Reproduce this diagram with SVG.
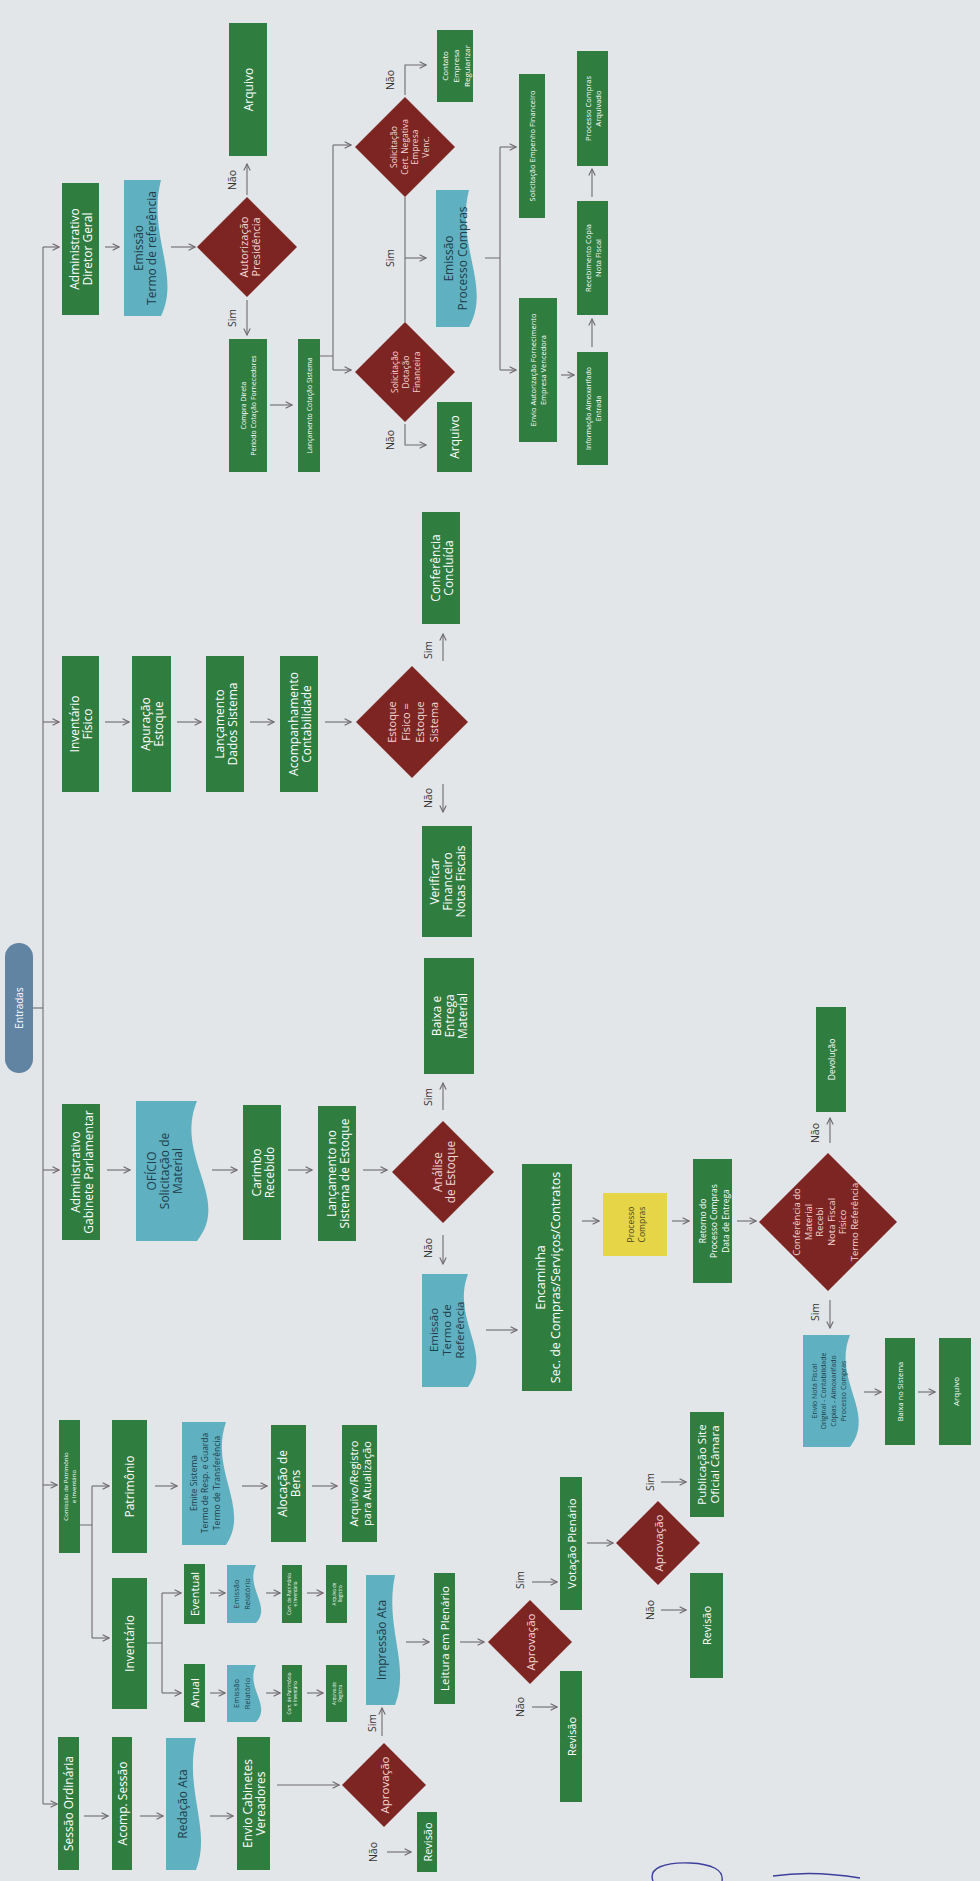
<svg xmlns="http://www.w3.org/2000/svg" width="980" height="1881" viewBox="0 0 980 1881">
<defs>
<marker id="ah" viewBox="0 0 10 10" refX="9" refY="5" markerWidth="8" markerHeight="8" markerUnits="userSpaceOnUse" orient="auto"><path d="M1,1 L9,5 L1,9" fill="none" stroke="#6e6a6c" stroke-width="1.4"/></marker>
</defs>
<style>
.g{fill:#2f7d3f}.c{fill:#5fb1c1}.d{fill:#7d2522}.y{fill:#e5d547}
text{font-family:'Open Sans','Liberation Sans',sans-serif;text-anchor:middle;dominant-baseline:central}
.tw{fill:#ffffff}.tk{fill:#213c48}.tp{fill:#f4d6d6}.ty{fill:#4a4620}
.lab{fill:#333333;font-size:10.5px}
.ln{stroke:#6e6a6c;stroke-width:1.1;fill:none}
.ar{marker-end:url(#ah)}
</style>
<rect width="980" height="1881" fill="#e3e6e9"/>

<g id="connectors">
<path class="ln" d="M43,247 V1804"/>
<path class="ln" d="M33,1008 H43"/>
<path class="ln ar" d="M43,247 H59"/>
<path class="ln ar" d="M43,722 H59"/>
<path class="ln ar" d="M43,1170 H59"/>
<path class="ln ar" d="M43,1485 H57"/>
<path class="ln ar" d="M43,1804 H57"/>
<!-- Diretor Geral -->
<path class="ln ar" d="M105,247 H119"/>
<path class="ln ar" d="M171,247 H195"/>
<path class="ln ar" d="M247,195 V164"/>
<path class="ln ar" d="M247,300 V335"/>
<path class="ln ar" d="M270,405 H292"/>
<path class="ln" d="M320,356 H333 M333,145 V370"/>
<path class="ln ar" d="M333,145 H351"/>
<path class="ln ar" d="M333,370 H351"/>
<path class="ln" d="M405,197 V322"/>
<path class="ln ar" d="M405,258 H426"/>
<path class="ln ar" d="M405,95 V65 H426"/>
<path class="ln ar" d="M405,424 V445 H426"/>
<path class="ln" d="M485,258 H500 M500,147 V370"/>
<path class="ln ar" d="M500,147 H516"/>
<path class="ln ar" d="M500,370 H516"/>
<path class="ln ar" d="M561,375 H574"/>
<path class="ln ar" d="M592,347 V319"/>
<path class="ln ar" d="M592,197 V169"/>
<!-- Inventario Fisico -->
<path class="ln ar" d="M105,722 H129"/>
<path class="ln ar" d="M177,722 H201"/>
<path class="ln ar" d="M250,722 H274"/>
<path class="ln ar" d="M325,722 H351"/>
<path class="ln ar" d="M443,661 V634"/>
<path class="ln ar" d="M443,784 V812"/>
<!-- Gabinete -->
<path class="ln ar" d="M107,1170 H130"/>
<path class="ln ar" d="M212,1170 H237"/>
<path class="ln ar" d="M288,1170 H312"/>
<path class="ln ar" d="M363,1170 H387"/>
<path class="ln ar" d="M443,1110 V1083"/>
<path class="ln ar" d="M443,1235 V1264"/>
<path class="ln ar" d="M486,1330 H517"/>
<path class="ln ar" d="M582,1221 H599"/>
<path class="ln ar" d="M672,1221 H689"/>
<path class="ln ar" d="M737,1221 H756"/>
<path class="ln ar" d="M830,1143 V1118"/>
<path class="ln ar" d="M830,1300 V1328"/>
<path class="ln ar" d="M864,1392 H881"/>
<path class="ln ar" d="M918,1392 H935"/>
<!-- Comissao -->
<path class="ln" d="M80,1525 H92 M92,1486 V1638"/>
<path class="ln ar" d="M92,1486 H109"/>
<path class="ln ar" d="M92,1638 H109"/>
<path class="ln ar" d="M155,1486 H177"/>
<path class="ln ar" d="M242,1486 H267"/>
<path class="ln ar" d="M312,1486 H337"/>
<path class="ln" d="M147,1643 H162 M162,1593 V1693"/>
<path class="ln ar" d="M162,1593 H181"/>
<path class="ln ar" d="M162,1693 H181"/>
<path class="ln ar" d="M210,1593 H225"/>
<path class="ln ar" d="M210,1693 H225"/>
<path class="ln ar" d="M266,1593 H280"/>
<path class="ln ar" d="M266,1693 H280"/>
<path class="ln ar" d="M307,1593 H323"/>
<path class="ln ar" d="M307,1693 H323"/>
<!-- Sessao -->
<path class="ln ar" d="M84,1816 H108"/>
<path class="ln ar" d="M140,1816 H163"/>
<path class="ln ar" d="M210,1816 H233"/>
<path class="ln ar" d="M277,1785 H339"/>
<path class="ln ar" d="M382,1736 V1708"/>
<path class="ln ar" d="M387,1852 H411"/>
<path class="ln ar" d="M406,1642 H429"/>
<path class="ln ar" d="M460,1642 H484"/>
<path class="ln ar" d="M532,1582 H557"/>
<path class="ln ar" d="M532,1707 H557"/>
<path class="ln ar" d="M587,1543 H613"/>
<path class="ln ar" d="M661,1482 H686"/>
<path class="ln ar" d="M661,1610 H686"/>
</g>

<g id="labels" class="lab">
<text transform="translate(232,180) rotate(-90)">Não</text>
<text transform="translate(232,318) rotate(-90)">Sim</text>
<text transform="translate(390,80) rotate(-90)">Não</text>
<text transform="translate(390,258) rotate(-90)">Sim</text>
<text transform="translate(390,440) rotate(-90)">Não</text>
<text transform="translate(428,650) rotate(-90)">Sim</text>
<text transform="translate(428,798) rotate(-90)">Não</text>
<text transform="translate(428,1097) rotate(-90)">Sim</text>
<text transform="translate(428,1248) rotate(-90)">Não</text>
<text transform="translate(815,1133) rotate(-90)">Não</text>
<text transform="translate(815,1312) rotate(-90)">Sim</text>
<text transform="translate(372,1723) rotate(-90)">Sim</text>
<text transform="translate(373,1852) rotate(-90)">Não</text>
<text transform="translate(520,1580) rotate(-90)">Sim</text>
<text transform="translate(520,1707) rotate(-90)">Não</text>
<text transform="translate(650,1482) rotate(-90)">Sim</text>
<text transform="translate(650,1610) rotate(-90)">Não</text>
</g>

<g id="n-entradas"><rect x="5" y="943" width="28" height="130" rx="14" fill="#6184a2"/><text class="tw" font-size="10" transform="translate(19,1008) rotate(-90)">Entradas</text></g>

<g id="n-diretor"><rect class="g" x="62" y="183" width="37" height="132"/><text class="tw" font-size="12" transform="translate(80.5,249) rotate(-90)"><tspan x="0" y="-6.5">Administrativo</tspan><tspan x="0" y="6.5">Diretor Geral</tspan></text></g>
<g id="n-termo1"><path class="c" d="M124,180 H161 C147,234 181,275 161,316 H124 Z"/><text class="tk" font-size="12" transform="translate(144,248) rotate(-90)"><tspan x="0" y="-6.5">Emissão</tspan><tspan x="0" y="6.5">Termo de referência</tspan></text></g>
<g id="n-autorizacao"><path class="d" d="M197,247 L247,197 L297,247 L247,297 Z"/><text class="tp" font-size="11" transform="translate(249,247) rotate(-90)"><tspan x="0" y="-6">Autorização</tspan><tspan x="0" y="6">Presidência</tspan></text></g>
<g id="n-arquivo1"><rect class="g" x="229" y="23" width="38" height="133"/><text class="tw" font-size="12" transform="translate(248,89.5) rotate(-90)">Arquivo</text></g>
<g id="n-compradireta"><rect class="g" x="229" y="339" width="38" height="133"/><text class="tw" font-size="7" transform="translate(248,405.5) rotate(-90)"><tspan x="0" y="-5">Compra Direta</tspan><tspan x="0" y="5">Período Cotação Fornecedores</tspan></text></g>
<g id="n-lanccotacao"><rect class="g" x="298" y="339" width="22" height="133"/><text class="tw" font-size="7" transform="translate(309,405.5) rotate(-90)">Lançamento Cotação Sistema</text></g>
<g id="n-certneg"><path class="d" d="M355,147 L405,97 L455,147 L405,197 Z"/><text class="tp" font-size="8.5" transform="translate(409,147) rotate(-90)"><tspan x="0" y="-16">Solicitação</tspan><tspan x="0" y="-5.3">Cert. Negativa</tspan><tspan x="0" y="5.3">Empresa</tspan><tspan x="0" y="16">Venc.</tspan></text></g>
<g id="n-dotacao"><path class="d" d="M355,372 L405,322 L455,372 L405,422 Z"/><text class="tp" font-size="8.5" transform="translate(405,372) rotate(-90)"><tspan x="0" y="-11">Solicitação</tspan><tspan x="0" y="0">Dotação</tspan><tspan x="0" y="11">Financeira</tspan></text></g>
<g id="n-contato"><rect class="g" x="437" y="30" width="36" height="72"/><text class="tw" font-size="8" transform="translate(455,66) rotate(-90)"><tspan x="0" y="-11">Contato</tspan><tspan x="0" y="0">Empresa</tspan><tspan x="0" y="11">Regularizar</tspan></text></g>
<g id="n-procompras"><path class="c" d="M436,190 H469 C455,245 492,286 469,327 H436 Z"/><text class="tk" font-size="12" transform="translate(455,258.5) rotate(-90)"><tspan x="0" y="-7">Emissão</tspan><tspan x="0" y="7">Processo Compras</tspan></text></g>
<g id="n-arquivo2"><rect class="g" x="437" y="402" width="35" height="70"/><text class="tw" font-size="12" transform="translate(454.5,437) rotate(-90)">Arquivo</text></g>
<g id="n-empenho"><rect class="g" x="519" y="74" width="26" height="144"/><text class="tw" font-size="7.5" transform="translate(532,146) rotate(-90)">Solicitação Empenho Financeiro</text></g>
<g id="n-envioaut"><rect class="g" x="519" y="298" width="38" height="144"/><text class="tw" font-size="7.5" transform="translate(538,370) rotate(-90)"><tspan x="0" y="-5">Envio Autorização Fornecimento</tspan><tspan x="0" y="5">Empresa Vencedora</tspan></text></g>
<g id="n-infoalmox"><rect class="g" x="577" y="352" width="31" height="113"/><text class="tw" font-size="7" transform="translate(592.5,408.5) rotate(-90)"><tspan x="0" y="-5">Informação Almoxarifado</tspan><tspan x="0" y="5">Entrada</tspan></text></g>
<g id="n-recebimento"><rect class="g" x="577" y="201" width="31" height="114"/><text class="tw" font-size="7.5" transform="translate(592.5,258) rotate(-90)"><tspan x="0" y="-5">Recebimento Cópia</tspan><tspan x="0" y="5">Nota Fiscal</tspan></text></g>
<g id="n-arquivado"><rect class="g" x="577" y="51" width="31" height="115"/><text class="tw" font-size="7.5" transform="translate(592.5,108.5) rotate(-90)"><tspan x="0" y="-5">Processo Compras</tspan><tspan x="0" y="5">Arquivado</tspan></text></g>

<g id="n-invfisico"><rect class="g" x="62" y="656" width="37" height="136"/><text class="tw" font-size="12" transform="translate(80.5,724) rotate(-90)"><tspan x="0" y="-6.5">Inventário</tspan><tspan x="0" y="6.5">Físico</tspan></text></g>
<g id="n-apuracao"><rect class="g" x="132" y="656" width="39" height="136"/><text class="tw" font-size="12" transform="translate(151.5,724) rotate(-90)"><tspan x="0" y="-6.5">Apuração</tspan><tspan x="0" y="6.5">Estoque</tspan></text></g>
<g id="n-lancdados"><rect class="g" x="206" y="656" width="38" height="136"/><text class="tw" font-size="12" transform="translate(225,724) rotate(-90)"><tspan x="0" y="-6.5">Lançamento</tspan><tspan x="0" y="6.5">Dados Sistema</tspan></text></g>
<g id="n-acomp"><rect class="g" x="280" y="656" width="38" height="136"/><text class="tw" font-size="12" transform="translate(299,724) rotate(-90)"><tspan x="0" y="-6.5">Acompanhamento</tspan><tspan x="0" y="6.5">Contabilidade</tspan></text></g>
<g id="n-estoque"><path class="d" d="M356,722 L412,666 L468,722 L412,778 Z"/><text class="tp" font-size="11" transform="translate(412,722) rotate(-90)"><tspan x="0" y="-21">Estoque</tspan><tspan x="0" y="-7">Físico =</tspan><tspan x="0" y="7">Estoque</tspan><tspan x="0" y="21">Sistema</tspan></text></g>
<g id="n-concluida"><rect class="g" x="422" y="512" width="38" height="112"/><text class="tw" font-size="12" transform="translate(441,568) rotate(-90)"><tspan x="0" y="-6.5">Conferência</tspan><tspan x="0" y="6.5">Concluída</tspan></text></g>
<g id="n-verificar"><rect class="g" x="422" y="826" width="50" height="111"/><text class="tw" font-size="12" transform="translate(447,881.5) rotate(-90)"><tspan x="0" y="-13">Verificar</tspan><tspan x="0" y="0">Financeiro</tspan><tspan x="0" y="13">Notas Fiscais</tspan></text></g>

<g id="n-gabinete"><rect class="g" x="62" y="1104" width="38" height="136"/><text class="tw" font-size="12" transform="translate(81,1172) rotate(-90)"><tspan x="0" y="-6.5">Administrativo</tspan><tspan x="0" y="6.5">Gabinete Parlamentar</tspan></text></g>
<g id="n-oficio"><path class="c" d="M136,1101 H197 C174,1157 232,1199 197,1241 H136 Z"/><text class="tk" font-size="12" transform="translate(164,1171) rotate(-90)"><tspan x="0" y="-13">OFÍCIO</tspan><tspan x="0" y="0">Solicitação de</tspan><tspan x="0" y="13">Material</tspan></text></g>
<g id="n-carimbo"><rect class="g" x="243" y="1105" width="38" height="135"/><text class="tw" font-size="12" transform="translate(262,1172.5) rotate(-90)"><tspan x="0" y="-6.5">Carimbo</tspan><tspan x="0" y="6.5">Recebido</tspan></text></g>
<g id="n-lancestoque"><rect class="g" x="318" y="1106" width="38" height="135"/><text class="tw" font-size="12" transform="translate(337,1173.5) rotate(-90)"><tspan x="0" y="-6.5">Lançamento no</tspan><tspan x="0" y="6.5">Sistema de Estoque</tspan></text></g>
<g id="n-analise"><path class="d" d="M392,1172 L443,1121 L494,1172 L443,1223 Z"/><text class="tp" font-size="12" transform="translate(443,1172) rotate(-90)"><tspan x="0" y="-6.5">Análise</tspan><tspan x="0" y="6.5">de Estoque</tspan></text></g>
<g id="n-baixaentrega"><rect class="g" x="424" y="958" width="50" height="116"/><text class="tw" font-size="12" transform="translate(449,1016) rotate(-90)"><tspan x="0" y="-13">Baixa e</tspan><tspan x="0" y="0">Entrega</tspan><tspan x="0" y="13">Material</tspan></text></g>
<g id="n-termo2"><path class="c" d="M422,1274 H468 C451,1319 494,1353 468,1387 H422 Z"/><text class="tk" font-size="11.5" transform="translate(446,1330) rotate(-90)"><tspan x="0" y="-13">Emissão</tspan><tspan x="0" y="0">Termo de</tspan><tspan x="0" y="13">Referência</tspan></text></g>
<g id="n-encaminha"><rect class="g" x="522" y="1164" width="50" height="227"/><text class="tw" font-size="12.5" transform="translate(547,1277.5) rotate(-90)"><tspan x="0" y="-7.5">Encaminha</tspan><tspan x="0" y="7.5">Sec. de Compras/Serviços/Contratos</tspan></text></g>
<g id="n-processo"><rect class="y" x="603" y="1193" width="64" height="63"/><text class="ty" font-size="8.5" transform="translate(635,1224.5) rotate(-90)"><tspan x="0" y="-5.5">Processo</tspan><tspan x="0" y="5.5">Compras</tspan></text></g>
<g id="n-retorno"><rect class="g" x="693" y="1159" width="39" height="124"/><text class="tw" font-size="8.5" transform="translate(713,1221) rotate(-90)"><tspan x="0" y="-11.5">Retorno do</tspan><tspan x="0" y="0">Processo Compras</tspan><tspan x="0" y="11.5">Data de Entrega</tspan></text></g>
<g id="n-conferencia"><path class="d" d="M759,1222 L828,1153 L897,1222 L828,1291 Z"/><text class="tp" font-size="9.5" transform="translate(825,1222) rotate(-90)"><tspan x="0" y="-29">Conferência do</tspan><tspan x="0" y="-17.4">Material</tspan><tspan x="0" y="-5.8">Recebi</tspan><tspan x="0" y="5.8">Nota Fiscal</tspan><tspan x="0" y="17.4">Físico</tspan><tspan x="0" y="29">Termo Referência</tspan></text></g>
<g id="n-devolucao"><rect class="g" x="816" y="1007" width="30" height="105"/><text class="tw" font-size="8.5" transform="translate(831,1059.5) rotate(-90)">Devolução</text></g>
<g id="n-envionota"><path class="c" d="M803,1335 H850 C832,1380 877,1413 850,1447 H803 Z"/><text class="tk" font-size="7" transform="translate(828,1391) rotate(-90)"><tspan x="0" y="-14.5">Envio Nota Fiscal</tspan><tspan x="0" y="-4.8">Original - Contabilidade</tspan><tspan x="0" y="4.8">Cópias - Almoxarifado</tspan><tspan x="0" y="14.5">Processo Compras</tspan></text></g>
<g id="n-baixasistema"><rect class="g" x="885" y="1338" width="30" height="107"/><text class="tw" font-size="7.5" transform="translate(900,1391.5) rotate(-90)">Baixa no Sistema</text></g>
<g id="n-arquivo3"><rect class="g" x="939" y="1338" width="32" height="107"/><text class="tw" font-size="8" transform="translate(955,1391.5) rotate(-90)">Arquivo</text></g>

<g id="n-comissao"><rect class="g" x="59" y="1420" width="21" height="133"/><text class="tw" font-size="6" transform="translate(69.5,1486.5) rotate(-90)"><tspan x="0" y="-4">Comissão de Patrimônio</tspan><tspan x="0" y="4">e Inventário</tspan></text></g>
<g id="n-patrimonio"><rect class="g" x="112" y="1420" width="35" height="133"/><text class="tw" font-size="12" transform="translate(129.5,1486.5) rotate(-90)">Patrimônio</text></g>
<g id="n-emite"><path class="c" d="M182,1422 H226 C209,1471 251,1508 226,1545 H182 Z"/><text class="tk" font-size="8.5" transform="translate(204,1483) rotate(-90)"><tspan x="0" y="-11.5">Emite Sistema</tspan><tspan x="0" y="0">Termo de Resp. e Guarda</tspan><tspan x="0" y="11.5">Termo de Transferência</tspan></text></g>
<g id="n-alocacao"><rect class="g" x="271" y="1425" width="35" height="117"/><text class="tw" font-size="12" transform="translate(288.5,1483.5) rotate(-90)"><tspan x="0" y="-6.5">Alocação de</tspan><tspan x="0" y="6.5">Bens</tspan></text></g>
<g id="n-arqregistro"><rect class="g" x="342" y="1425" width="35" height="117"/><text class="tw" font-size="11" transform="translate(359.5,1483.5) rotate(-90)"><tspan x="0" y="-6.5">Arquivo/Registro</tspan><tspan x="0" y="6.5">para Atualização</tspan></text></g>
<g id="n-inventario"><rect class="g" x="112" y="1578" width="35" height="131"/><text class="tw" font-size="12" transform="translate(129.5,1643.5) rotate(-90)">Inventário</text></g>
<g id="n-eventual"><rect class="g" x="184" y="1564" width="21" height="60"/><text class="tw" font-size="11" transform="translate(194.5,1594) rotate(-90)">Eventual</text></g>
<g id="n-anual"><rect class="g" x="184" y="1664" width="21" height="58"/><text class="tw" font-size="11" transform="translate(194.5,1693) rotate(-90)">Anual</text></g>
<g id="n-relat1"><path class="c" d="M227,1565 H256 C245,1588 272,1606 256,1623 H227 Z"/><text class="tk" font-size="7.5" transform="translate(241,1594) rotate(-90)"><tspan x="0" y="-5.5">Emissão</tspan><tspan x="0" y="5.5">Relatório</tspan></text></g>
<g id="n-relat2"><path class="c" d="M227,1665 H256 C245,1688 272,1705 256,1722 H227 Z"/><text class="tk" font-size="7.5" transform="translate(241,1693.5) rotate(-90)"><tspan x="0" y="-5.5">Emissão</tspan><tspan x="0" y="5.5">Relatório</tspan></text></g>
<g id="n-com1"><rect class="g" x="282" y="1565" width="20" height="58"/><text class="tw" font-size="4.5" transform="translate(292,1594) rotate(-90)"><tspan x="0" y="-3">Com. de Patrimônio</tspan><tspan x="0" y="3">e Inventário</tspan></text></g>
<g id="n-reg1"><rect class="g" x="326" y="1565" width="21" height="58"/><text class="tw" font-size="4.5" transform="translate(336.5,1594) rotate(-90)"><tspan x="0" y="-3">Arquivo de</tspan><tspan x="0" y="3">Registro</tspan></text></g>
<g id="n-com2"><rect class="g" x="282" y="1665" width="20" height="57"/><text class="tw" font-size="4.5" transform="translate(292,1693.5) rotate(-90)"><tspan x="0" y="-3">Com. de Patrimônio</tspan><tspan x="0" y="3">e Inventário</tspan></text></g>
<g id="n-reg2"><rect class="g" x="326" y="1665" width="21" height="57"/><text class="tw" font-size="4.5" transform="translate(336.5,1693.5) rotate(-90)"><tspan x="0" y="-3">Arquivo de</tspan><tspan x="0" y="3">Registro</tspan></text></g>

<g id="n-sessao"><rect class="g" x="58" y="1737" width="21" height="133"/><text class="tw" font-size="12" transform="translate(68.5,1803.5) rotate(-90)">Sessão Ordinária</text></g>
<g id="n-acompsessao"><rect class="g" x="112" y="1737" width="20" height="133"/><text class="tw" font-size="12" transform="translate(122,1803.5) rotate(-90)">Acomp. Sessão</text></g>
<g id="n-redacao"><path class="c" d="M166,1738 H196 C184,1791 212,1830 196,1870 H166 Z"/><text class="tk" font-size="12" transform="translate(182,1804) rotate(-90)">Redação Ata</text></g>
<g id="n-enviocab"><rect class="g" x="237" y="1737" width="33" height="133"/><text class="tw" font-size="12" transform="translate(253.5,1803.5) rotate(-90)"><tspan x="0" y="-6.5">Envio Cabinetes</tspan><tspan x="0" y="6.5">Vereadores</tspan></text></g>
<g id="n-aprov1"><path class="d" d="M342,1785 L384,1743 L426,1785 L384,1827 Z"/><text class="tp" font-size="11.5" transform="translate(384,1785) rotate(-90)">Aprovação</text></g>
<g id="n-revisao1"><rect class="g" x="417" y="1812" width="20" height="60"/><text class="tw" font-size="11" transform="translate(427,1842) rotate(-90)">Revisão</text></g>
<g id="n-impressao"><path class="c" d="M366,1575 H395 C384,1627 411,1666 395,1705 H366 Z"/><text class="tk" font-size="12" transform="translate(381,1640) rotate(-90)">Impressão Ata</text></g>
<g id="n-leitura"><rect class="g" x="434" y="1573" width="21" height="131"/><text class="tw" font-size="11.5" transform="translate(444.5,1638.5) rotate(-90)">Leitura em Plenário</text></g>
<g id="n-aprov2"><path class="d" d="M488,1642 L530,1600 L572,1642 L530,1684 Z"/><text class="tp" font-size="11.5" transform="translate(530,1642) rotate(-90)">Aprovação</text></g>
<g id="n-votacao"><rect class="g" x="560" y="1477" width="22" height="133"/><text class="tw" font-size="11.5" transform="translate(571,1543.5) rotate(-90)">Votação Plenário</text></g>
<g id="n-revisao2"><rect class="g" x="560" y="1671" width="22" height="131"/><text class="tw" font-size="11" transform="translate(571,1736.5) rotate(-90)">Revisão</text></g>
<g id="n-aprov3"><path class="d" d="M616,1543 L658,1501 L700,1543 L658,1585 Z"/><text class="tp" font-size="11.5" transform="translate(658,1543) rotate(-90)">Aprovação</text></g>
<g id="n-publicacao"><rect class="g" x="690" y="1412" width="34" height="105"/><text class="tw" font-size="11.5" transform="translate(707,1464.5) rotate(-90)"><tspan x="0" y="-6.5">Publicação Site</tspan><tspan x="0" y="6.5">Oficial Câmara</tspan></text></g>
<g id="n-revisao3"><rect class="g" x="690" y="1573" width="33" height="105"/><text class="tw" font-size="11" transform="translate(706.5,1625.5) rotate(-90)">Revisão</text></g>

<g id="signature" fill="none" stroke="#3d3f9c" stroke-width="1.4">
<path d="M653,1881 C648,1868 665,1862 690,1863 C712,1864 724,1870 722,1881"/>
<path d="M773,1876 C800,1872 830,1873 860,1878"/>
</g>
</svg>
